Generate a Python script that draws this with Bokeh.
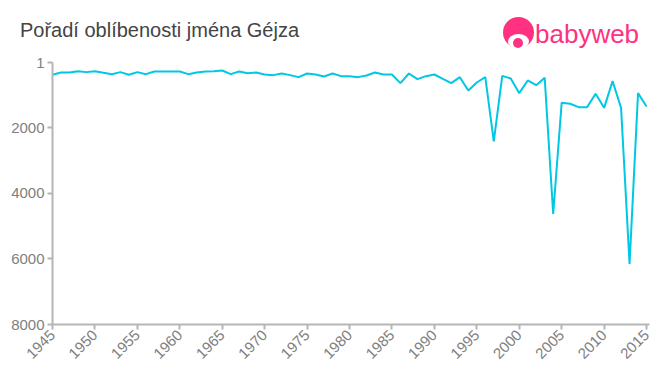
from math import pi
from bokeh.plotting import figure
from bokeh.layouts import column
from bokeh.models import Range1d, FixedTicker, Div
from bokeh.embed import file_html
from bokeh.resources import INLINE

title_text = "Pořadí oblíbenosti jména Géjza"
logo_text = "babyweb"

years = list(range(1945, 2016))
ranks = [
    377, 306, 306, 265, 295, 265, 316, 357, 295, 377,
    295, 357, 275, 275, 275, 275, 357, 306, 275, 265,
    245, 357, 275, 326, 306, 367, 387, 336, 387, 448,
    336, 367, 428, 336, 418, 418, 448, 397, 306, 367,
    367, 631, 336, 510, 418, 367, 499, 631, 449, 856,
    612, 449, 2410, 408, 490, 937, 550, 693, 469, 4621,
    1232, 1262, 1364, 1364, 957, 1385, 571, 1385, 6148, 937,
    1344,
]
y_ticks = [1, 2000, 4000, 6000, 8000]
x_ticks = list(range(1945, 2016, 5))

W = 660
HEAD = 50
H = 375 - HEAD

pink = "#ff3180"
header_html = f"""
<div style="position:relative;width:{W}px;height:{HEAD}px;overflow:hidden;">
  <span style="position:absolute;left:20px;top:20px;font-family:'Liberation Sans';font-size:20px;line-height:20px;color:#444444;white-space:nowrap;">{title_text}</span>
  <div style="position:absolute;left:502.5px;top:17px;width:31px;height:31px;border-radius:50%;background:{pink};"></div>
  <div style="position:absolute;left:508px;top:34px;width:21px;height:15px;border-radius:50%;background:#ffffff;"></div>
  <div style="position:absolute;left:513px;top:38px;width:10px;height:10px;border-radius:50%;background:{pink};"></div>
  <span style="position:absolute;left:535px;top:21px;font-family:'Liberation Sans';font-size:26px;line-height:26px;color:{pink};white-space:nowrap;">{logo_text}</span>
</div>
"""
head = Div(text=header_html, width=W, height=HEAD, margin=0)

p = figure(width=W, height=H, x_range=Range1d(1945, 2015.35), y_range=Range1d(8000, 1),
           toolbar_location=None, output_backend="svg",
           min_border_left=52, min_border_right=W - 649, min_border_top=62 - HEAD,
           min_border_bottom=H - (324 - HEAD), margin=0)
p.outline_line_color = None
p.grid.visible = False
p.line(years, ranks, line_color="#00c8e4", line_width=2)

for ax in (p.xaxis[0], p.yaxis[0]):
    ax.axis_line_color = "#b5b5b5"
    ax.axis_line_width = 2
    ax.major_tick_line_color = "#b5b5b5"
    ax.major_tick_line_width = 2
    ax.major_tick_out = 5
    ax.major_tick_in = 0
    ax.minor_tick_line_color = None
    ax.major_label_text_color = "#808080"
    ax.major_label_text_font = "Liberation Sans"
    ax.major_label_text_font_size = "15px"
    ax.major_label_standoff = 3

p.xaxis.ticker = FixedTicker(ticks=x_ticks)
p.yaxis.ticker = FixedTicker(ticks=y_ticks)
p.xaxis.major_label_orientation = pi / 4

layout = column(head, p, spacing=0, margin=0)
open("out.html", "w").write(file_html(layout, INLINE))
